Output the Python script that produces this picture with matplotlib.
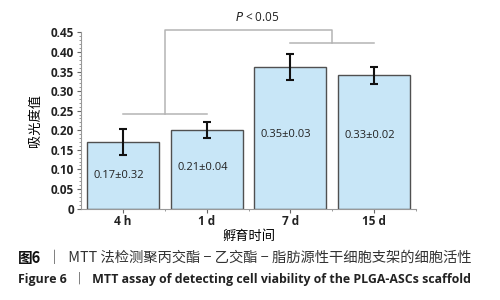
import matplotlib.pyplot as plt
from matplotlib.ticker import MultipleLocator, FixedLocator, FuncFormatter

plt.rcParams['font.family'] = ['Open Sans', 'Noto Sans CJK SC', 'DejaVu Sans']

groups = ['4 h', '1 d', '7 d', '15 d']
means = [0.170, 0.200, 0.362, 0.340]
errors = [0.033, 0.021, 0.033, 0.022]
labels = ['0.17±0.32', '0.21±0.04', '0.35±0.03', '0.33±0.02']
label_y = [0.085, 0.106, 0.188, 0.186]

x = list(range(len(groups)))

fig = plt.figure(figsize=(5, 3), dpi=100)
ax = fig.add_axes([0.162, 0.305, 0.67, 0.587])

ax.bar(x, means, width=0.86, color='#c8e6f7', edgecolor='#505050', linewidth=1.0, zorder=2)
ax.errorbar(x, means, yerr=errors, fmt='none', ecolor='#111111', elinewidth=1.5,
            capsize=2.8, capthick=1.5, zorder=3)

for xi, lab, ly in zip(x, labels, label_y):
    ax.text(xi - 0.05, ly, lab, ha='center', va='center', fontsize=8, color='#222222')

ax.set_xlim(-0.5, 3.5)
ax.set_ylim(0, 0.45)
ax.yaxis.set_major_locator(MultipleLocator(0.05))
ax.yaxis.set_minor_locator(MultipleLocator(0.01))
ax.yaxis.set_major_formatter(FuncFormatter(lambda v, p: '0' if abs(v) < 1e-9 else '%.2f' % v))
ax.set_xticks(x)
ax.set_xticklabels(groups, fontweight='bold')
ax.xaxis.set_minor_locator(FixedLocator([0.5, 1.5, 2.5, 3.5]))
for lab in ax.get_yticklabels():
    lab.set_fontweight('bold')

ax.tick_params(axis='both', which='major', labelsize=8.5, length=3, width=0.8,
               color='#666666', pad=2, labelcolor='#222222')
ax.tick_params(axis='both', which='minor', length=1.5, width=0.6, color='#888888')

for side in ['top', 'right']:
    ax.spines[side].set_visible(False)
for side in ['left', 'bottom']:
    ax.spines[side].set_color('#999999')
    ax.spines[side].set_linewidth(0.8)

ax.set_ylabel('吸光度值', fontsize=9.5, family=['Noto Sans CJK SC'], labelpad=6)
ax.set_xlabel('孵育时间', fontsize=9.5, family=['Noto Sans CJK SC'], labelpad=1)

# significance bracket
gc = '#b4b4b4'
kw = dict(color=gc, linewidth=1.1, clip_on=False, zorder=1)
ax.plot([0, 1], [0.241, 0.241], **kw)
ax.plot([0.5, 0.5, 2.5, 2.5], [0.241, 0.456, 0.456, 0.423], **kw)
ax.plot([2, 3], [0.423, 0.423], **kw)
ax.text(1.6, 0.487, r'$\it{P}$ < 0.05', ha='center', va='center', fontsize=8.5, color='#222222')

# captions
t1 = fig.text(0.036, 0.14, '图6', fontsize=10.5, fontweight='bold',
              family=['Noto Sans CJK SC'], va='center', color='#111111')
ax.annotate('  ｜  MTT 法检测聚丙交酯 − 乙交酯 − 脂肪源性干细胞支架的细胞活性',
            xy=(1, 0.5), xycoords=t1, va='center', fontsize=10.3,
            family=['Noto Sans CJK SC', 'DejaVu Sans'], color='#333333')
fig.text(0.036, 0.07, 'Figure 6  ｜  MTT assay of detecting cell viability of the PLGA-ASCs scaffold',
         fontsize=8.9, fontweight='bold', va='center', color='#222222',
         family=['Open Sans', 'Noto Sans CJK SC'])

fig.savefig('out.png', dpi=100)
